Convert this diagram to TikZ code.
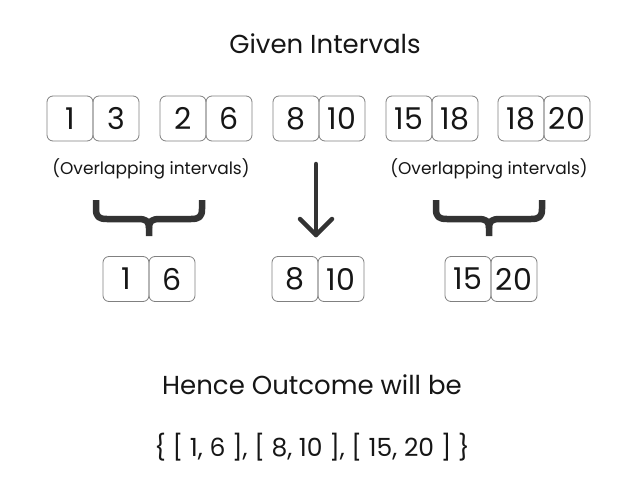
\documentclass[tikz,border=0pt]{standalone}
\usepackage{fontspec}
\setmainfont{Poppins}
\usetikzlibrary{positioning}
\definecolor{boxline}{HTML}{808080}
\definecolor{ink}{HTML}{161616}
\definecolor{mark}{HTML}{333333}
\begin{document}
\begin{tikzpicture}[x=1pt,y=-1pt,
  cell/.style={draw=boxline, line width=0.8pt, rounded corners=6pt, minimum width=46pt, minimum height=45pt, inner sep=0pt, text=ink, font=\fontsize{30}{32}\selectfont},
  note/.style={text=ink, font=\fontsize{17}{20}\selectfont, inner sep=0pt},
  head/.style={text=ink, font=\fontsize{26}{30}\selectfont, inner sep=0pt},
  res/.style={text=ink, font=\fontsize{25}{30}\selectfont, inner sep=0pt},
  brace/.style={draw=mark, line width=6.5pt, line join=round},
  arr/.style={draw=mark, line width=4.5pt, line cap=round, line join=round}]
\useasboundingbox[fill=white] (0,0) rectangle (630,493);
\node[head] (title) at (325,44) {Given Intervals};
% top row
\node[cell] (a1) at (70,118.5) {1};
\node[cell] (a2) at (116,118.5) {3};
\node[cell] (b1) at (183,118.5) {2};
\node[cell] (b2) at (229,118.5) {6};
\node[cell] (c1) at (296,118.5) {8};
\node[cell] (c2) at (342,118.5) {10};
\node[cell] (d1) at (409,118.5) {15};
\node[cell] (d2) at (455,118.5) {18};
\node[cell] (e1) at (521,118.5) {18};
\node[cell] (e2) at (567,118.5) {20};
% notes
\node[note] (n1) at (151,169) {(Overlapping intervals)};
\node[note] (n2) at (489,169) {(Overlapping intervals)};
% bottom row
\node[cell] (f1) at (126,279) {1};
\node[cell] (f2) at (172,279) {6};
\node[cell] (g1) at (295,279) {8};
\node[cell] (g2) at (341,279) {10};
\node[cell] (h1) at (468,279) {15};
\node[cell] (h2) at (514,279) {20};
% braces
\draw[brace] (96,200) -- (96,209) .. controls (96,217) and (99,219) .. (107,219) -- (138,219) .. controls (146,219) and (149,221) .. (149,228) -- (149,236);
\draw[brace] (202,200) -- (202,209) .. controls (202,217) and (199,219) .. (191,219) -- (160,219) .. controls (152,219) and (149,221) .. (149,228);
\draw[brace] (436,200) -- (436,209) .. controls (436,217) and (439,219) .. (447,219) -- (478,219) .. controls (486,219) and (489,221) .. (489,228) -- (489,236);
\draw[brace] (542,200) -- (542,209) .. controls (542,217) and (539,219) .. (531,219) -- (500,219) .. controls (492,219) and (489,221) .. (489,228);
% arrow
\coordinate (atop) at (316,164);
\coordinate (atip) at (316,235);
\draw[arr] (atop) -- (atip);
\draw[arr] (300,219) -- (atip) -- (332,219);
% outcome
\node[head] (hence) at (312,385) {Hence Outcome will be};
\node[res] (result) at (312,447) {\{ [ 1, 6 ], [ 8, 10 ], [ 15, 20 ] \}};
\end{tikzpicture}
\end{document}
